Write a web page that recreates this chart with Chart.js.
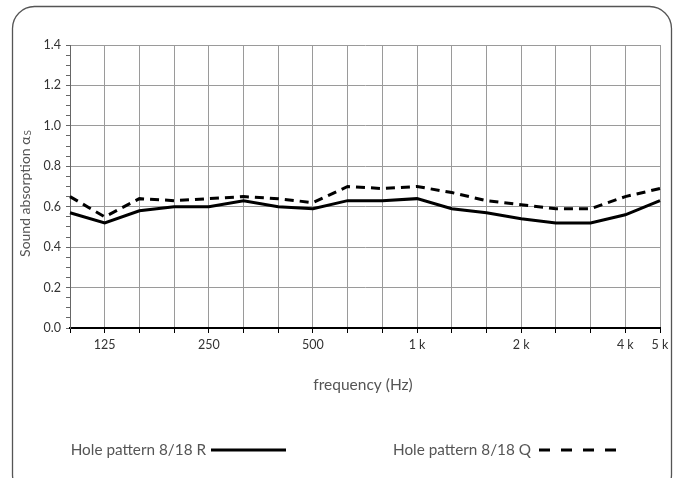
<!DOCTYPE html>
<html>
<head>
<meta charset="utf-8">
<script src="https://cdn.jsdelivr.net/npm/chart.js@4"></script>
<style>
  html, body { margin: 0; padding: 0; background: #fff; }
  #wrap { width: 677px; height: 478px; }
</style>
</head>
<body>
<div id="wrap"><canvas id="absorptionChart" width="677" height="478"></canvas></div>
<script>
// 1/3 octave bands
const frequencies = ["100", "125", "160", "200", "250", "315", "400", "500", "630",
  "800", "1000", "1250", "1600", "2000", "2500", "3150", "4000", "5000"];
const tickLabels = ["", "125", "", "", "250", "", "", "500", "", "", "1 k", "", "", "2 k", "", "", "4 k", "5 k"];

const patternR = [0.57, 0.52, 0.58, 0.60, 0.60, 0.63, 0.60, 0.59, 0.63, 0.63, 0.64, 0.59, 0.57, 0.54, 0.52, 0.52, 0.56, 0.63];
const patternQ = [0.65, 0.55, 0.64, 0.63, 0.64, 0.65, 0.64, 0.62, 0.70, 0.69, 0.70, 0.67, 0.63, 0.61, 0.59, 0.59, 0.65, 0.69];

const seriesNames = ["Hole pattern 8/18 R", "Hole pattern 8/18 Q"];

const textGray = "#555";
const fontFamily = "Lato, 'Open Sans', sans-serif";

const ctx = document.getElementById("absorptionChart").getContext("2d");

// frame, titles and legend
const decorations = {
  id: "decorations",
  beforeDraw(chart) {
    const c = chart.ctx;
    c.save();
    c.strokeStyle = "#555";
    c.lineWidth = 1.3;
    c.beginPath();
    c.roundRect(12.5, 6.5, 659, 490, 22);
    c.stroke();
    c.restore();
  },
  afterDraw(chart) {
    const c = chart.ctx;
    c.save();
    c.fillStyle = textGray;

    // y axis title with subscript
    c.translate(25, 194);
    c.rotate(-Math.PI / 2);
    const main = "Sound absorption α";
    c.font = "14px " + fontFamily;
    const w1 = c.measureText(main).width;
    c.font = "10px " + fontFamily;
    const w2 = c.measureText("S").width;
    const start = -(w1 + w2) / 2;
    c.textBaseline = "middle";
    c.textAlign = "left";
    c.font = "14px " + fontFamily;
    c.fillText(main, start, 0);
    c.font = "10px " + fontFamily;
    c.fillText("S", start + w1 + 1, 3);
    c.restore();

    // x axis title
    c.save();
    c.fillStyle = textGray;
    c.font = "15.5px " + fontFamily;
    c.textAlign = "center";
    c.textBaseline = "middle";
    c.fillText("frequency (Hz)", 363, 385);

    // legend
    const legendY = 450;
    c.font = "15.3px " + fontFamily;
    c.textAlign = "right";
    c.fillText(seriesNames[0], 206, legendY);
    c.fillText(seriesNames[1], 531, legendY);
    c.strokeStyle = "#000";
    c.lineWidth = 3;
    c.beginPath();
    c.moveTo(211, legendY);
    c.lineTo(286, legendY);
    c.stroke();
    c.setLineDash([11, 11]);
    c.beginPath();
    c.moveTo(539, legendY);
    c.lineTo(616, legendY);
    c.stroke();
    c.restore();
  }
};

const config = {
  type: "line",
  data: {
    labels: frequencies,
    datasets: [
      {
        label: seriesNames[0],
        data: patternR,
        borderColor: "#000",
        borderWidth: 3,
        pointRadius: 0,
        tension: 0,
      },
      {
        label: seriesNames[1],
        data: patternQ,
        borderColor: "#000",
        borderWidth: 3,
        borderDash: [9, 6],
        pointRadius: 0,
        tension: 0,
      },
    ],
  },
  options: {
    responsive: false,
    animation: false,
    layout: { padding: { top: 45, right: 17, left: 0, bottom: 0 } },
    plugins: {
      legend: { display: false },
      tooltip: { enabled: false },
    },
    scales: {
      x: {
        type: "category",
        offset: false,
        afterFit(scale) { scale.height = 150; },
        border: { color: "#000", width: 2 },
        grid: {
          color: "#9a9a9a",
          lineWidth: 1,
          tickColor: "#000",
          tickLength: 5,
        },
        ticks: {
          autoSkip: false,
          maxRotation: 0,
          color: "#333",
          font: { family: fontFamily, size: 12.5 },
          padding: 4,
          callback: (value, index) => tickLabels[index],
        },
      },
      y: {
        min: 0,
        max: 1.4,
        afterFit(scale) { scale.width = 70; },
        border: { color: "#666", width: 1 },
        grid: {
          color: (c) => (Math.round(c.tick.value * 100) % 20 === 0 ? "#9a9a9a" : "rgba(0,0,0,0)"),
          lineWidth: 1,
          tickColor: "#666",
          tickLength: 4,
        },
        ticks: {
          stepSize: 0.05,
          autoSkip: false,
          color: "#333",
          font: { family: fontFamily, size: 12.5 },
          padding: 5,
          callback: (value) => (Math.round(value * 100) % 20 === 0 ? value.toFixed(1) : ""),
        },
      },
    },
  },
  plugins: [decorations],
};

const absorptionChart = new Chart(ctx, config);
</script>
</body>
</html>
